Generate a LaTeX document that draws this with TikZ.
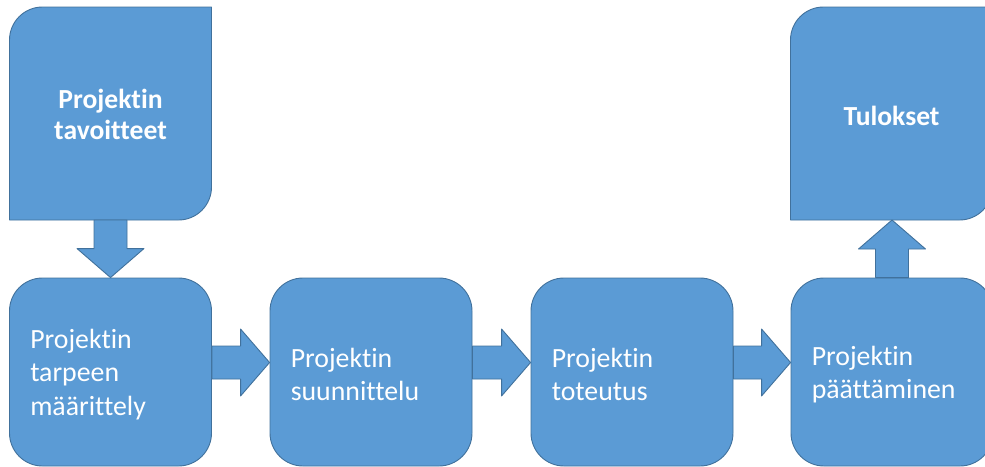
\documentclass[tikz,border=0pt]{standalone}
\usepackage{fontspec}
\setmainfont{Carlito}[Ligatures=NoCommon]
\usetikzlibrary{calc}
\definecolor{boxblue}{HTML}{5B9BD5}
\definecolor{boxline}{HTML}{41719C}
\tikzset{
  shapefill/.style={fill=boxblue, draw=boxline, line width=0.9pt, line join=round},
  stepbox/.style={shapefill, rounded corners=33pt, minimum width=202pt, minimum height=188pt,
    inner sep=0pt},
  steptext/.style={anchor=west, inner sep=0pt, align=left, text=white,
    font=\fontsize{27.8}{33.5}\selectfont},
  goalbox/.style={minimum width=202pt, minimum height=213pt, inner sep=0pt, align=center,
    text=white, font=\fontsize{27.6}{31}\selectfont\bfseries},
}
\newcommand\myRightArrow[2]{%
  \path[shapefill] let \p1=(#1.east), \p2=(#2.west) in
    (\x1,\y1+26pt) -- (\x2-29pt,\y1+26pt) -- (\x2-29pt,\y1+43pt) -- (\x2,\y1+9.5pt)
    -- (\x2-29pt,\y1-24pt) -- (\x2-29pt,\y1-7pt) -- (\x1,\y1-7pt) -- cycle;}
\begin{document}
\begin{tikzpicture}[x=1pt,y=1pt]
\useasboundingbox (0,0) rectangle (985,-466);
\clip (0,0) rectangle (985,-466);
% top boxes
\path[shapefill] (9.5,-220) -- (9.5,-40) arc[start angle=180,end angle=90,radius=33]
  -- (211.5,-7) -- (211.5,-187) arc[start angle=0,end angle=-90,radius=33] -- cycle;
\path[shapefill] (790.5,-220) -- (790.5,-40) arc[start angle=180,end angle=90,radius=33]
  -- (992.5,-7) -- (992.5,-187) arc[start angle=0,end angle=-90,radius=33] -- cycle;
\node[goalbox] (t1) at (110.5,-114.5) {Projektin\\tavoitteet};
\node[goalbox] (t2) at (891.5,-115.5) {Tulokset};
% bottom boxes
\node[stepbox] (b1) at (110.5,-372) {};
\node[stepbox] (b2) at (371,-372) {};
\node[stepbox] (b3) at (632,-372) {};
\node[stepbox] (b4) at (892,-372) {};
\node[steptext] (b1t) at ($(b1.west)+(21,-2.5)$) {Projektin\\tarpeen\\määrittely};
\node[steptext] (b2t) at ($(b2.west)+(21,-2.5)$) {Projektin\\suunnittelu};
\node[steptext] (b3t) at ($(b3.west)+(21,-2.5)$) {Projektin\\toteutus};
\node[steptext] (b4t) at ($(b4.west)+(21,-2.5)$) {Projektin\\päättäminen};
% down arrow
\path[shapefill] let \p1=(t1.south), \p2=(b1.north) in
  (\x1-16.5pt,-220) -- (\x1-16.5pt,\y2+29pt) -- (\x1-33.5pt,\y2+29pt) -- (\x1,\y2)
  -- (\x1+33.5pt,\y2+29pt) -- (\x1+16.5pt,\y2+29pt) -- (\x1+16.5pt,-220) -- cycle;
% right arrows
\myRightArrow{b1}{b2}
\myRightArrow{b2}{b3}
\myRightArrow{b3}{b4}
% up arrow
\path[shapefill] let \p1=(b4.north), \p2=(t2.south) in
  (\x1-16.5pt,\y1) -- (\x1-16.5pt,-249) -- (\x1-33.5pt,-249) -- (\x1,-220)
  -- (\x1+33.5pt,-249) -- (\x1+16.5pt,-249) -- (\x1+16.5pt,\y1) -- cycle;
\end{tikzpicture}
\end{document}
